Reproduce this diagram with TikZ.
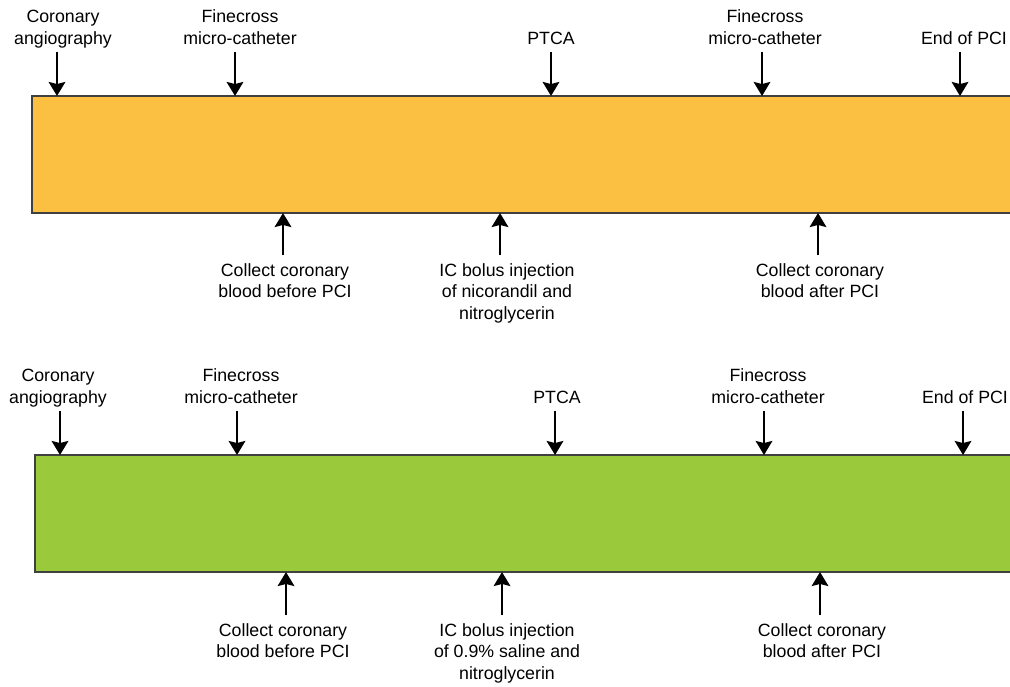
\documentclass[tikz,border=0pt]{standalone}
\usepackage{fontspec}
\setmainfont{Liberation Sans}
\usetikzlibrary{arrows.meta}
\definecolor{nicorange}{HTML}{FBC041}
\definecolor{salinegreen}{HTML}{9ACA3C}
\newcommand{\lblfont}{\fontsize{10.1}{12.4}\selectfont}
\tikzset{
  lbl/.style={align=center, inner sep=0pt, font=\lblfont},
  arr/.style={-{Stealth[length=8pt,width=9.5pt,inset=1.2pt]}, line width=1.1pt},
  bar/.style={draw=black!75, line width=0.6pt},
}

\begin{document}
\begin{tikzpicture}[x=0.02cm, y=-0.02cm]
        \useasboundingbox (0,0) rectangle (1010,686);
        \clip (0,0) rectangle (1010,686);
        % upper time line: nicorandil
        \draw[bar, fill=nicorange] (32,96) rectangle (1030,213);
        \coordinate (ta1) at (57,96);
        \coordinate (ta2) at (235,96);
        \coordinate (ta3) at (551,96);
        \coordinate (ta4) at (762,96);
        \coordinate (ta5) at (960,96);
        \coordinate (tb1) at (283,213);
        \coordinate (tb2) at (500,213);
        \coordinate (tb3) at (818,213);
        \node[lbl, anchor=south] (cag1) at (63,51.6) {Coronary\\angiography\strut};
        \node[lbl, anchor=south] (fine1) at (240,51.6) {Finecross\\micro-catheter\strut};
        \node[lbl, anchor=south] (ptca1) at (551,51.6) {PTCA\strut};
        \node[lbl, anchor=south] (finetwo1) at (765,51.6) {Finecross\\micro-catheter\strut};
        \node[lbl, anchor=south] (end1) at (964,51.6) {End of PCI\strut};
        \node[lbl, anchor=north] (pre1) at (285,260.6) {\strut Collect coronary\\blood before PCI};
        \node[lbl, anchor=north] (bolus1) at (507,260.6) {\strut IC bolus injection\\of nicorandil and\\nitroglycerin};
        \node[lbl, anchor=north] (post1) at (820,260.6) {\strut Collect coronary\\blood after PCI};
        \draw[arr] (cag1.south -| ta1) -- (ta1);
        \draw[arr] (fine1.south -| ta2) -- (ta2);
        \draw[arr] (ptca1.south -| ta3) -- (ta3);
        \draw[arr] (finetwo1.south -| ta4) -- (ta4);
        \draw[arr] (end1.south -| ta5) -- (ta5);
        \draw[arr, shorten <=3pt] (pre1.north -| tb1) -- (tb1);
        \draw[arr, shorten <=3pt] (bolus1.north -| tb2) -- (tb2);
        \draw[arr, shorten <=3pt] (post1.north -| tb3) -- (tb3);
        % lower time line: saline
        \draw[bar, fill=salinegreen] (35,455) rectangle (1030,572);
        \coordinate (ua1) at (60,455);
        \coordinate (ua2) at (237,455);
        \coordinate (ua3) at (555,455);
        \coordinate (ua4) at (764,455);
        \coordinate (ua5) at (963,455);
        \coordinate (ub1) at (286,572);
        \coordinate (ub2) at (502,572);
        \coordinate (ub3) at (820,572);
        \node[lbl, anchor=south] (cag2) at (58,410.6) {Coronary\\angiography\strut};
        \node[lbl, anchor=south] (fine2) at (241,410.6) {Finecross\\micro-catheter\strut};
        \node[lbl, anchor=south] (ptca2) at (557,410.6) {PTCA\strut};
        \node[lbl, anchor=south] (finetwo2) at (768,410.6) {Finecross\\micro-catheter\strut};
        \node[lbl, anchor=south] (end2) at (965,410.6) {End of PCI\strut};
        \node[lbl, anchor=north] (pre2) at (283,620.6) {\strut Collect coronary\\blood before PCI};
        \node[lbl, anchor=north] (bolus2) at (507,620.6) {\strut IC bolus injection\\of 0.9\% saline and\\nitroglycerin};
        \node[lbl, anchor=north] (post2) at (822,620.6) {\strut Collect coronary\\blood after PCI};
        \draw[arr] (cag2.south -| ua1) -- (ua1);
        \draw[arr] (fine2.south -| ua2) -- (ua2);
        \draw[arr] (ptca2.south -| ua3) -- (ua3);
        \draw[arr] (finetwo2.south -| ua4) -- (ua4);
        \draw[arr] (end2.south -| ua5) -- (ua5);
        \draw[arr, shorten <=3pt] (pre2.north -| ub1) -- (ub1);
        \draw[arr, shorten <=3pt] (bolus2.north -| ub2) -- (ub2);
        \draw[arr, shorten <=3pt] (post2.north -| ub3) -- (ub3);
    \end{tikzpicture}
\end{document}
